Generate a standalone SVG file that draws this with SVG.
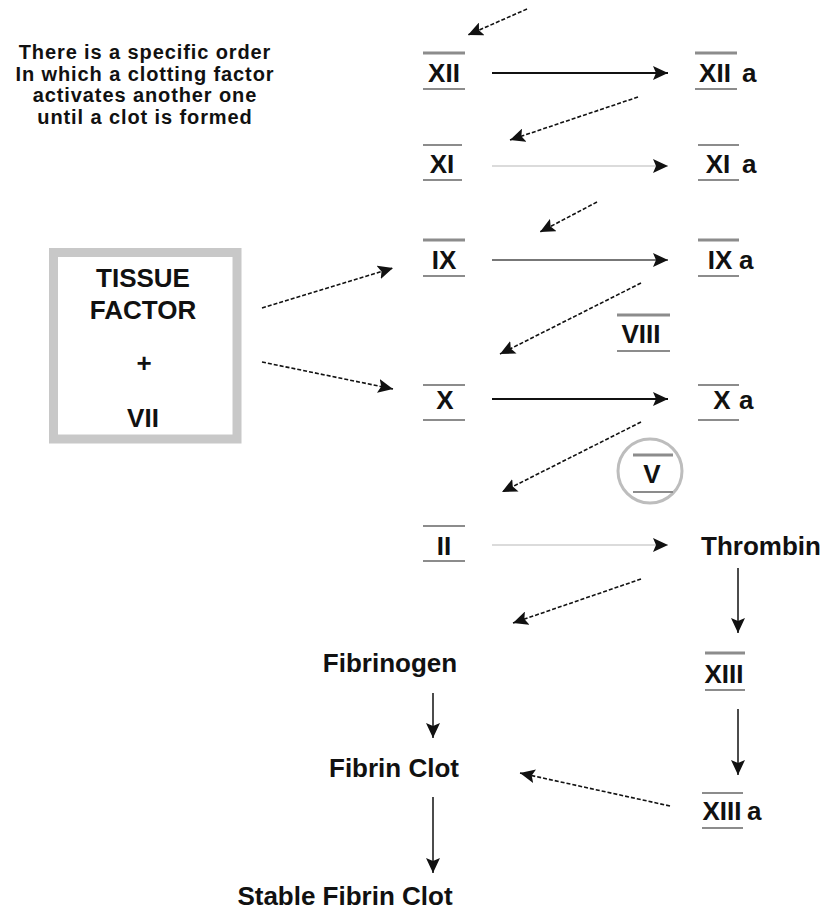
<svg xmlns="http://www.w3.org/2000/svg" width="834" height="910" viewBox="0 0 834 910">
<style>
  text { font-family: "Liberation Sans", Arial, sans-serif; font-weight: bold; fill: #111; }
  .lbl { font-size: 26px; }
  .note { font-size: 20px; letter-spacing: 0.9px; }
  .big { font-size: 26px; }
  .topbar { stroke: #8c8c8c; stroke-width: 3; }
  .botbar { stroke: #8c8c8c; stroke-width: 2; }
  .dash { stroke: #111; stroke-width: 1.6; stroke-dasharray: 4 2; fill: none; }
  .solid { stroke: #111; stroke-width: 2; fill: none; }
  .thin { stroke: #111; stroke-width: 1.5; fill: none; }
  .light { stroke: #cfcfcf; stroke-width: 1.5; fill: none; }
  .mid { stroke: #777; stroke-width: 1.8; fill: none; }
</style>
<defs>
  <marker id="ah" markerUnits="userSpaceOnUse" markerWidth="16" markerHeight="14" refX="15" refY="7" orient="auto">
    <path d="M0,0 L15,7 L0,14 L3,7 Z" fill="#111"/>
  </marker>
</defs>
<rect width="834" height="910" fill="#fff"/>

<g id="note">
  <text class="note" x="145" y="59" text-anchor="middle">There is a specific order</text>
  <text class="note" x="145" y="81" text-anchor="middle">In which a clotting factor</text>
  <text class="note" x="145" y="102" text-anchor="middle">activates another one</text>
  <text class="note" x="145" y="124" text-anchor="middle">until a clot is formed</text>
</g>

<g id="tissue-factor">
  <rect x="53.5" y="252.5" width="183.5" height="186.5" fill="#fff" stroke="#c8c8c8" stroke-width="9"/>
  <text class="big" x="143" y="287" text-anchor="middle">TISSUE</text>
  <text class="big" x="143" y="319" text-anchor="middle">FACTOR</text>
  <text class="big" x="144" y="372" text-anchor="middle">+</text>
  <text class="big" x="143" y="427" text-anchor="middle">VII</text>
</g>

<g id="XII">
  <line class="topbar" x1="423" y1="53" x2="465" y2="53"/>
  <text class="lbl" x="444" y="82" text-anchor="middle">XII</text>
  <line class="botbar" x1="423" y1="89" x2="465" y2="89"/>
</g>
<g id="XIIa">
  <line class="topbar" x1="695" y1="53" x2="737" y2="53"/>
  <text class="lbl" x="715" y="82" text-anchor="middle">XII</text>
  <text class="lbl" x="742" y="82">a</text>
  <line class="botbar" x1="695" y1="89" x2="737" y2="89"/>
</g>

<g id="XI">
  <line class="botbar" x1="423" y1="145" x2="462" y2="145"/>
  <text class="lbl" x="442" y="173" text-anchor="middle">XI</text>
  <line class="botbar" x1="423" y1="180" x2="462" y2="180"/>
</g>
<g id="XIa">
  <line class="botbar" x1="698" y1="145" x2="739" y2="145"/>
  <text class="lbl" x="718" y="173" text-anchor="middle">XI</text>
  <text class="lbl" x="742" y="173">a</text>
  <line class="botbar" x1="698" y1="180" x2="739" y2="180"/>
</g>

<g id="IX">
  <line class="topbar" x1="423" y1="240" x2="465" y2="240"/>
  <text class="lbl" x="444" y="269" text-anchor="middle">IX</text>
  <line class="botbar" x1="423" y1="276" x2="465" y2="276"/>
</g>
<g id="IXa">
  <line class="topbar" x1="698" y1="240" x2="739" y2="240"/>
  <text class="lbl" x="720" y="269" text-anchor="middle">IX</text>
  <text class="lbl" x="739" y="269">a</text>
  <line class="botbar" x1="698" y1="276" x2="739" y2="276"/>
</g>

<g id="VIII">
  <line class="topbar" x1="617" y1="315" x2="670" y2="315"/>
  <text class="lbl" x="641" y="343" text-anchor="middle">VIII</text>
  <line class="botbar" x1="617" y1="351" x2="670" y2="351"/>
</g>

<g id="X">
  <line class="botbar" x1="423" y1="385" x2="465" y2="385"/>
  <text class="lbl" x="445" y="409" text-anchor="middle">X</text>
  <line class="botbar" x1="423" y1="420" x2="465" y2="420"/>
</g>
<g id="Xa">
  <line class="botbar" x1="698" y1="385" x2="739" y2="385"/>
  <text class="lbl" x="722" y="409" text-anchor="middle">X</text>
  <text class="lbl" x="739" y="409">a</text>
  <line class="botbar" x1="698" y1="420" x2="739" y2="420"/>
</g>

<g id="V">
  <circle cx="650" cy="471" r="32" fill="none" stroke="#bdbdbd" stroke-width="3"/>
  <line class="topbar" x1="633" y1="455" x2="673" y2="455"/>
  <text class="lbl" x="652" y="483" text-anchor="middle">V</text>
  <line class="botbar" x1="633" y1="492" x2="673" y2="492"/>
</g>

<g id="II">
  <line class="botbar" x1="423" y1="526" x2="465" y2="526"/>
  <text class="lbl" x="444" y="555" text-anchor="middle">II</text>
  <line class="botbar" x1="423" y1="561" x2="465" y2="561"/>
</g>
<g id="Thrombin">
  <text class="big" x="761" y="555" text-anchor="middle">Thrombin</text>
</g>

<g id="Fibrinogen">
  <text class="big" x="390" y="672" text-anchor="middle">Fibrinogen</text>
</g>
<g id="XIII">
  <line class="topbar" x1="705" y1="653" x2="745" y2="653"/>
  <text class="lbl" x="724" y="683" text-anchor="middle">XIII</text>
  <line class="botbar" x1="705" y1="690" x2="745" y2="690"/>
</g>

<g id="FibrinClot">
  <text class="big" x="394" y="777" text-anchor="middle">Fibrin Clot</text>
</g>
<g id="XIIIa">
  <line class="botbar" x1="702" y1="793" x2="743" y2="793"/>
  <text class="lbl" x="722" y="820" text-anchor="middle">XIII</text>
  <text class="lbl" x="747" y="820">a</text>
  <line class="botbar" x1="702" y1="828" x2="743" y2="828"/>
</g>

<g id="StableFibrinClot">
  <text class="big" x="345" y="905" text-anchor="middle">Stable Fibrin Clot</text>
</g>

<g id="connectors">
  <line class="solid" x1="492" y1="73" x2="668" y2="73" marker-end="url(#ah)"/>
  <line class="light" x1="492" y1="166" x2="668" y2="166" marker-end="url(#ah)"/>
  <line class="mid" x1="492" y1="260" x2="668" y2="260" marker-end="url(#ah)"/>
  <line class="solid" x1="492" y1="399" x2="668" y2="399" marker-end="url(#ah)"/>
  <line class="light" x1="492" y1="545" x2="668" y2="545" marker-end="url(#ah)"/>

  <line class="dash" x1="527" y1="9" x2="468" y2="35" marker-end="url(#ah)"/>
  <line class="dash" x1="638" y1="97" x2="510" y2="140" marker-end="url(#ah)"/>
  <line class="dash" x1="597" y1="202" x2="540" y2="232" marker-end="url(#ah)"/>
  <line class="dash" x1="262" y1="308" x2="393" y2="268" marker-end="url(#ah)"/>
  <line class="dash" x1="262" y1="362" x2="393" y2="389" marker-end="url(#ah)"/>
  <line class="dash" x1="641" y1="283" x2="500" y2="354" marker-end="url(#ah)"/>
  <line class="dash" x1="641" y1="422" x2="502" y2="492" marker-end="url(#ah)"/>
  <line class="dash" x1="641" y1="579" x2="513" y2="623" marker-end="url(#ah)"/>
  <line class="dash" x1="670" y1="806" x2="520" y2="773" marker-end="url(#ah)"/>

  <line class="thin" x1="738" y1="568" x2="738" y2="633" marker-end="url(#ah)"/>
  <line class="thin" x1="738" y1="709" x2="738" y2="775" marker-end="url(#ah)"/>
  <line class="thin" x1="433" y1="693" x2="433" y2="738" marker-end="url(#ah)"/>
  <line class="thin" x1="433" y1="797" x2="433" y2="873" marker-end="url(#ah)"/>
</g>
</svg>
